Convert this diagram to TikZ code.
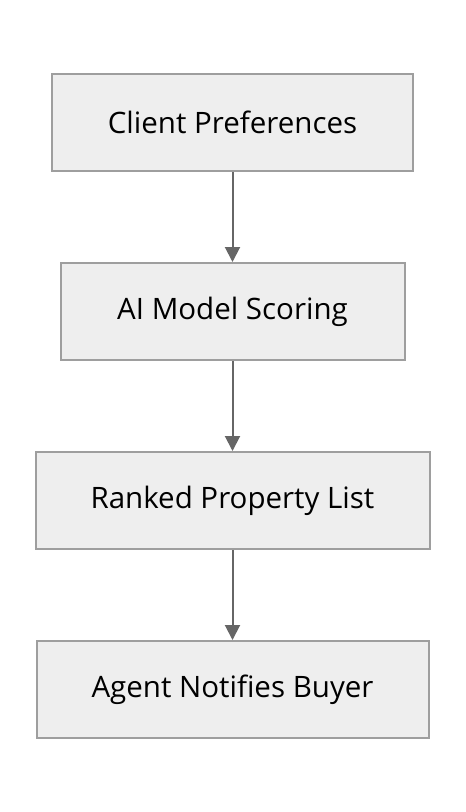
\documentclass[tikz,border=0pt]{standalone}
\usepackage{fontspec}
\setmainfont{Open Sans}
\usetikzlibrary{positioning,arrows.meta}
\definecolor{boxfill}{HTML}{EEEEEE}
\definecolor{boxline}{HTML}{9E9E9E}
\definecolor{arrowline}{HTML}{666666}
\begin{document}
\begin{tikzpicture}[x=1pt,y=1pt,node distance=90pt,
  stepbox/.style={draw=boxline,fill=boxfill,line width=2pt,minimum height=97pt,font=\fontsize{29.5}{34}\selectfont},
  flow/.style={draw=arrowline,line width=2pt,-{Triangle[length=15pt,width=15pt]}}]
      \useasboundingbox (0,0) rectangle (466,-812);
      \node[stepbox, minimum width=361pt] (prefs) at (232.5,-122.5) {Client Preferences};
      \node[stepbox, minimum width=344pt, below=of prefs] (scoring) {AI Model Scoring};
      \node[stepbox, minimum width=394pt, below=of scoring] (ranked) {Ranked Property List};
      \node[stepbox, minimum width=392pt, below=of ranked] (notify) {Agent Notifies Buyer};
      \draw[flow] (prefs) -- (scoring);
      \draw[flow] (scoring) -- (ranked);
      \draw[flow] (ranked) -- (notify);
      \end{tikzpicture}
\end{document}
